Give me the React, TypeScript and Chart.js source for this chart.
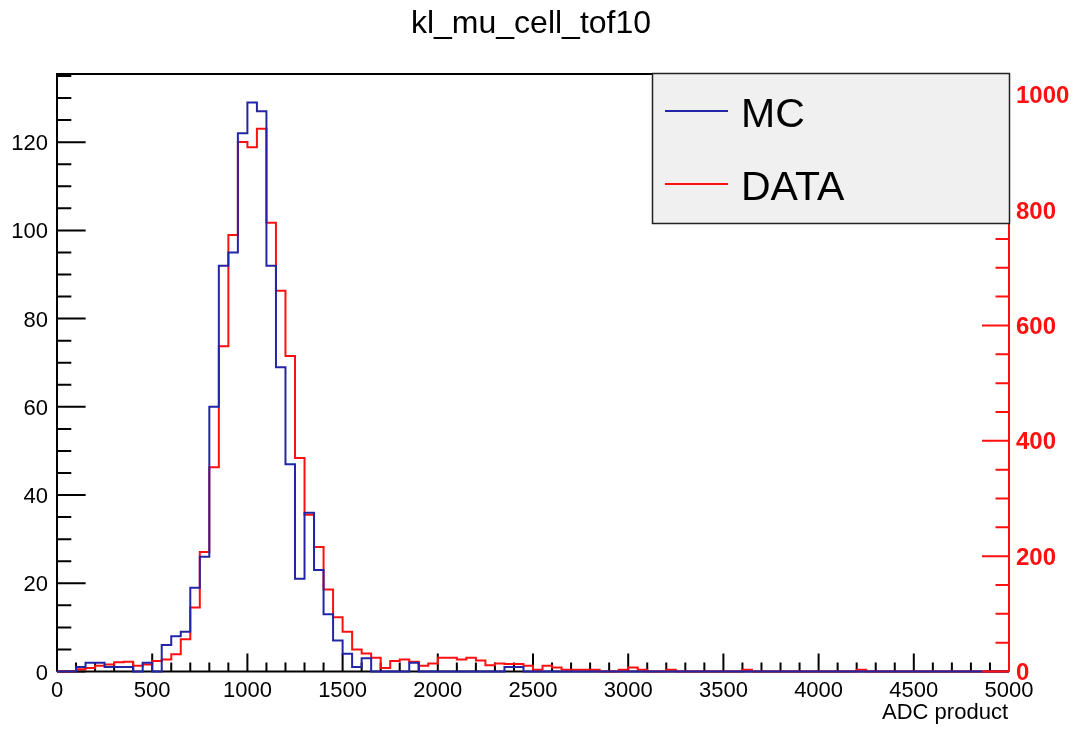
import React, { useEffect, useRef } from "react";
import { Chart, registerables } from "chart.js";

Chart.register(...registerables);

// ---------------- data ----------------
const TITLE = "kl_mu_cell_tof10";
const X_TITLE = "ADC product";
const SERIES_NAMES = ["MC", "DATA"];

const BIN_START = 0;
const BIN_WIDTH = 50;
const X_MIN = 0;
const X_MAX = 5000;
const LEFT_MAX = 135.45;
const RIGHT_MAX = 1036;

// MC histogram (left axis), 100 bins of width 50
const mcCounts = [
  0, 0, 1, 2, 2, 1, 1, 1, 0, 2,
  0, 6, 8, 9, 19, 26, 60, 92, 95, 122,
  129, 127, 92, 69, 47, 21, 36, 23, 13, 7,
  4, 1, 3, 0, 0, 0, 0, 2, 0, 0,
  0, 0, 0, 0, 0, 0, 0, 1, 1, 0,
  0, 0, 0, 0, 0, 0, 0, 0, 0, 0,
  0, 0, 0, 0, 0, 0, 0, 0, 0, 0,
  0, 0, 0, 0, 0, 0, 0, 0, 0, 0,
  0, 0, 0, 0, 0, 0, 0, 0, 0, 0,
  0, 0, 0, 0, 0, 0, 0, 0, 0, 0,
];

// DATA histogram (right axis), 100 bins of width 50
const dataCounts = [
  0, 0, 4, 6, 10, 12, 16, 17, 10, 12,
  18, 21, 30, 56, 111, 207, 354, 564, 757, 918,
  909, 941, 778, 660, 547, 370, 272, 216, 142, 94,
  69, 38, 31, 24, 6, 18, 21, 17, 10, 14,
  24, 24, 21, 24, 19, 11, 14, 13, 13, 10,
  3, 10, 7, 3, 3, 3, 3, 0, 0, 3,
  7, 3, 0, 0, 3, 0, 0, 0, 0, 0,
  0, 0, 3, 0, 0, 0, 0, 0, 0, 0,
  0, 0, 0, 0, 3, 0, 0, 0, 0, 0,
  0, 0, 0, 0, 0, 0, 0, 0, 0, 0,
];

const xTickLabels = [0, 500, 1000, 1500, 2000, 2500, 3000, 3500, 4000, 4500, 5000];
const leftTickLabels = [0, 20, 40, 60, 80, 100, 120];
const rightTickLabels = [0, 200, 400, 600, 800, 1000];

const X_MINOR_STEP = 100;
const LEFT_MINOR_STEP = 5;
const RIGHT_MINOR_STEP = 50;

const MC_COLOR = "#2424a6";
const DATA_COLOR = "#ff1010";
const FONT = '"Liberation Sans", Arial, Helvetica, sans-serif';

function toSteps(counts: number[]) {
  const pts = counts.map((v, i) => ({ x: BIN_START + i * BIN_WIDTH, y: v }));
  pts.push({ x: BIN_START + counts.length * BIN_WIDTH, y: counts[counts.length - 1] });
  return pts;
}

const rootStylePlugin = {
  id: "rootStyle",
  beforeDatasetsDraw(chart: any) {
    const { ctx, chartArea: a, scales } = chart;
    const xs = scales.x;
    const ys = scales.y;
    ctx.save();
    ctx.strokeStyle = "#000";
    ctx.fillStyle = "#000";
    ctx.lineWidth = 2;
    // frame: left, top, bottom
    ctx.beginPath();
    ctx.moveTo(a.left, a.bottom);
    ctx.lineTo(a.left, a.top);
    ctx.lineTo(a.right, a.top);
    ctx.moveTo(a.left, a.bottom);
    ctx.lineTo(a.right, a.bottom);
    ctx.stroke();

    // left ticks
    const yMajorStep = leftTickLabels[1] - leftTickLabels[0];
    ctx.beginPath();
    for (let v = 0; v <= LEFT_MAX + 1e-6; v += LEFT_MINOR_STEP) {
      const py = ys.getPixelForValue(v);
      const len = v % yMajorStep === 0 ? 28.6 : 14.3;
      ctx.moveTo(a.left, py);
      ctx.lineTo(a.left + len, py);
    }
    // bottom ticks
    const xMajorStep = xTickLabels[1] - xTickLabels[0];
    for (let v = X_MIN; v <= X_MAX + 1e-6; v += X_MINOR_STEP) {
      const px = xs.getPixelForValue(v);
      const len = v % xMajorStep === 0 ? 18 : 9;
      ctx.moveTo(px, a.bottom);
      ctx.lineTo(px, a.bottom - len);
    }
    ctx.stroke();

    // left labels
    ctx.font = `22px ${FONT}`;
    ctx.textAlign = "right";
    ctx.textBaseline = "alphabetic";
    for (const v of leftTickLabels) {
      const py = ys.getPixelForValue(v);
      ctx.fillText(String(v), a.left - 9, py + 8);
    }
    // bottom labels
    ctx.textAlign = "center";
    for (const v of xTickLabels) {
      const px = xs.getPixelForValue(v);
      ctx.fillText(String(v), px, a.bottom + 25);
    }
    // x title
    ctx.textAlign = "right";
    ctx.fillText(X_TITLE, a.right - 1, a.bottom + 47);
    ctx.restore();
  },
  afterDatasetsDraw(chart: any) {
    const { ctx, chartArea: a, scales } = chart;
    const ys2 = scales.y2;
    ctx.save();
    ctx.strokeStyle = DATA_COLOR;
    ctx.fillStyle = DATA_COLOR;
    ctx.lineWidth = 2;
    ctx.beginPath();
    ctx.moveTo(a.right, a.bottom);
    ctx.lineTo(a.right, a.top);
    const rMajorStep = rightTickLabels[1] - rightTickLabels[0];
    for (let v = 0; v <= RIGHT_MAX + 1e-6; v += RIGHT_MINOR_STEP) {
      const py = ys2.getPixelForValue(v);
      const len = v % rMajorStep === 0 ? 27 : 13.5;
      ctx.moveTo(a.right, py);
      ctx.lineTo(a.right - len, py);
    }
    ctx.stroke();
    ctx.font = `bold 24px ${FONT}`;
    ctx.textAlign = "left";
    ctx.textBaseline = "alphabetic";
    for (const v of rightTickLabels) {
      const py = ys2.getPixelForValue(v);
      ctx.fillText(String(v), a.right + 7, py + 8.5);
    }
    ctx.restore();
  },
  afterDraw(chart: any) {
    const { ctx } = chart;
    ctx.save();
    // title
    ctx.fillStyle = "#000";
    ctx.font = `32px ${FONT}`;
    ctx.textAlign = "center";
    ctx.textBaseline = "alphabetic";
    ctx.fillText(TITLE, 531, 33);

    // legend box
    const lx = 652.5, ly = 73.5, lw = 357, lh = 150;
    ctx.fillStyle = "#f0f0f0";
    ctx.fillRect(lx, ly, lw, lh);
    ctx.strokeStyle = "#222";
    ctx.lineWidth = 1.5;
    ctx.strokeRect(lx, ly, lw, lh);
    const items = [
      { name: SERIES_NAMES[0], color: MC_COLOR, y: 111 },
      { name: SERIES_NAMES[1], color: DATA_COLOR, y: 184 },
    ];
    ctx.font = `41px ${FONT}`;
    ctx.textAlign = "left";
    for (const it of items) {
      ctx.strokeStyle = it.color;
      ctx.lineWidth = 2;
      ctx.beginPath();
      ctx.moveTo(665, it.y);
      ctx.lineTo(728, it.y);
      ctx.stroke();
      ctx.fillStyle = "#000";
      ctx.fillText(it.name, 741, it.y + 16);
    }
    ctx.restore();
  },
};

export default function App() {
  const canvasRef = useRef<HTMLCanvasElement | null>(null);

  useEffect(() => {
    if (!canvasRef.current) return;
    const chart = new Chart(canvasRef.current, {
      type: "line",
      data: {
        datasets: [
          {
            label: SERIES_NAMES[0],
            data: toSteps(mcCounts),
            borderColor: MC_COLOR,
            borderWidth: 2,
            stepped: "before",
            pointRadius: 0,
            fill: false,
            xAxisID: "x",
            yAxisID: "y",
            clip: 4,
          },
          {
            label: SERIES_NAMES[1],
            data: toSteps(dataCounts),
            borderColor: DATA_COLOR,
            borderWidth: 2,
            stepped: "before",
            pointRadius: 0,
            fill: false,
            xAxisID: "x",
            yAxisID: "y2",
            clip: 4,
          },
        ],
      },
      options: {
        responsive: false,
        animation: false,
        events: [],
        layout: { padding: { left: 57, right: 71, top: 74, bottom: 58.5 } },
        plugins: {
          legend: { display: false },
          title: { display: false },
          tooltip: { enabled: false },
        },
        scales: {
          x: { type: "linear", min: X_MIN, max: X_MAX, display: false },
          y: { type: "linear", min: 0, max: LEFT_MAX, display: false },
          y2: { type: "linear", min: 0, max: RIGHT_MAX, display: false, position: "right" },
        },
      },
      plugins: [rootStylePlugin],
    } as any);
    return () => chart.destroy();
  }, []);

  return (
    <div style={{ position: "fixed", left: 0, top: 0, width: 1080, height: 730, background: "#fff" }}>
      <canvas ref={canvasRef} width={1080} height={730} style={{ display: "block" }} />
    </div>
  );
}
